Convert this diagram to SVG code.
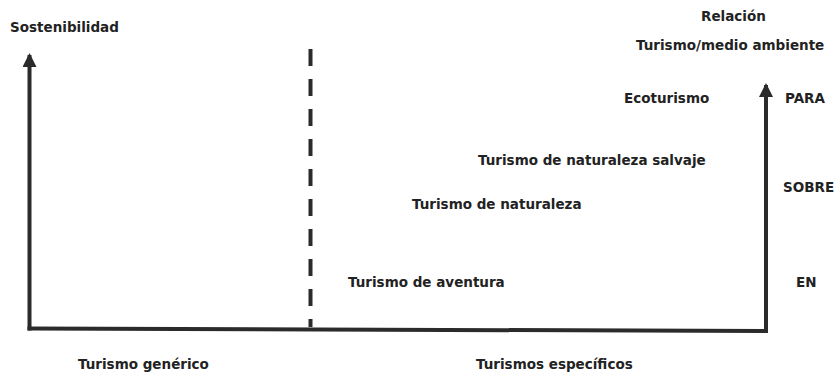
<svg xmlns="http://www.w3.org/2000/svg" width="836" height="379" viewBox="0 0 836 379">
  <style>
    .lbl { font-family: "DejaVu Sans", Verdana, sans-serif; font-weight: bold; font-size: 13.5px; fill: #222; }
    .axis { stroke: #2b2b2b; stroke-width: 4; fill: none; }
    .dash { stroke: #2b2b2b; stroke-width: 4; fill: none; stroke-dasharray: 17 13; }
  </style>
  <defs>
    <marker id="arrow" viewBox="0 0 14 14" refX="12" refY="7" markerWidth="14" markerHeight="14" markerUnits="userSpaceOnUse" orient="auto">
      <path d="M0,0 L14,7 L0,14 Z" fill="#2b2b2b"/>
    </marker>
  </defs>
  <rect width="836" height="379" fill="#ffffff"/>

  <g id="connectors">
    <line class="axis" x1="29.5" y1="330.5" x2="29.5" y2="55" marker-end="url(#arrow)"/>
    <line class="axis" x1="27.5" y1="328.5" x2="768" y2="331"/>
    <line class="axis" x1="766" y1="333" x2="766" y2="85" marker-end="url(#arrow)"/>
    <line class="dash" x1="310.5" y1="49" x2="310.5" y2="327"/>
  </g>

  <g id="sostenibilidad"><text class="lbl" x="10" y="31.5">Sostenibilidad</text></g>
  <g id="relacion"><text class="lbl" x="701" y="20.5">Relación</text></g>
  <g id="turismo-medio-ambiente"><text class="lbl" x="636" y="49.5">Turismo/medio ambiente</text></g>
  <g id="ecoturismo"><text class="lbl" x="624" y="103">Ecoturismo</text></g>
  <g id="para"><text class="lbl" x="785" y="103">PARA</text></g>
  <g id="turismo-naturaleza-salvaje"><text class="lbl" x="478" y="165">Turismo de naturaleza salvaje</text></g>
  <g id="sobre"><text class="lbl" x="783" y="192">SOBRE</text></g>
  <g id="turismo-naturaleza"><text class="lbl" x="412" y="209">Turismo de naturaleza</text></g>
  <g id="turismo-aventura"><text class="lbl" x="348" y="286.5">Turismo de aventura</text></g>
  <g id="en"><text class="lbl" x="796" y="286.5">EN</text></g>
  <g id="turismo-generico"><text class="lbl" x="78" y="369">Turismo genérico</text></g>
  <g id="turismos-especificos"><text class="lbl" x="476" y="369">Turismos específicos</text></g>
</svg>
